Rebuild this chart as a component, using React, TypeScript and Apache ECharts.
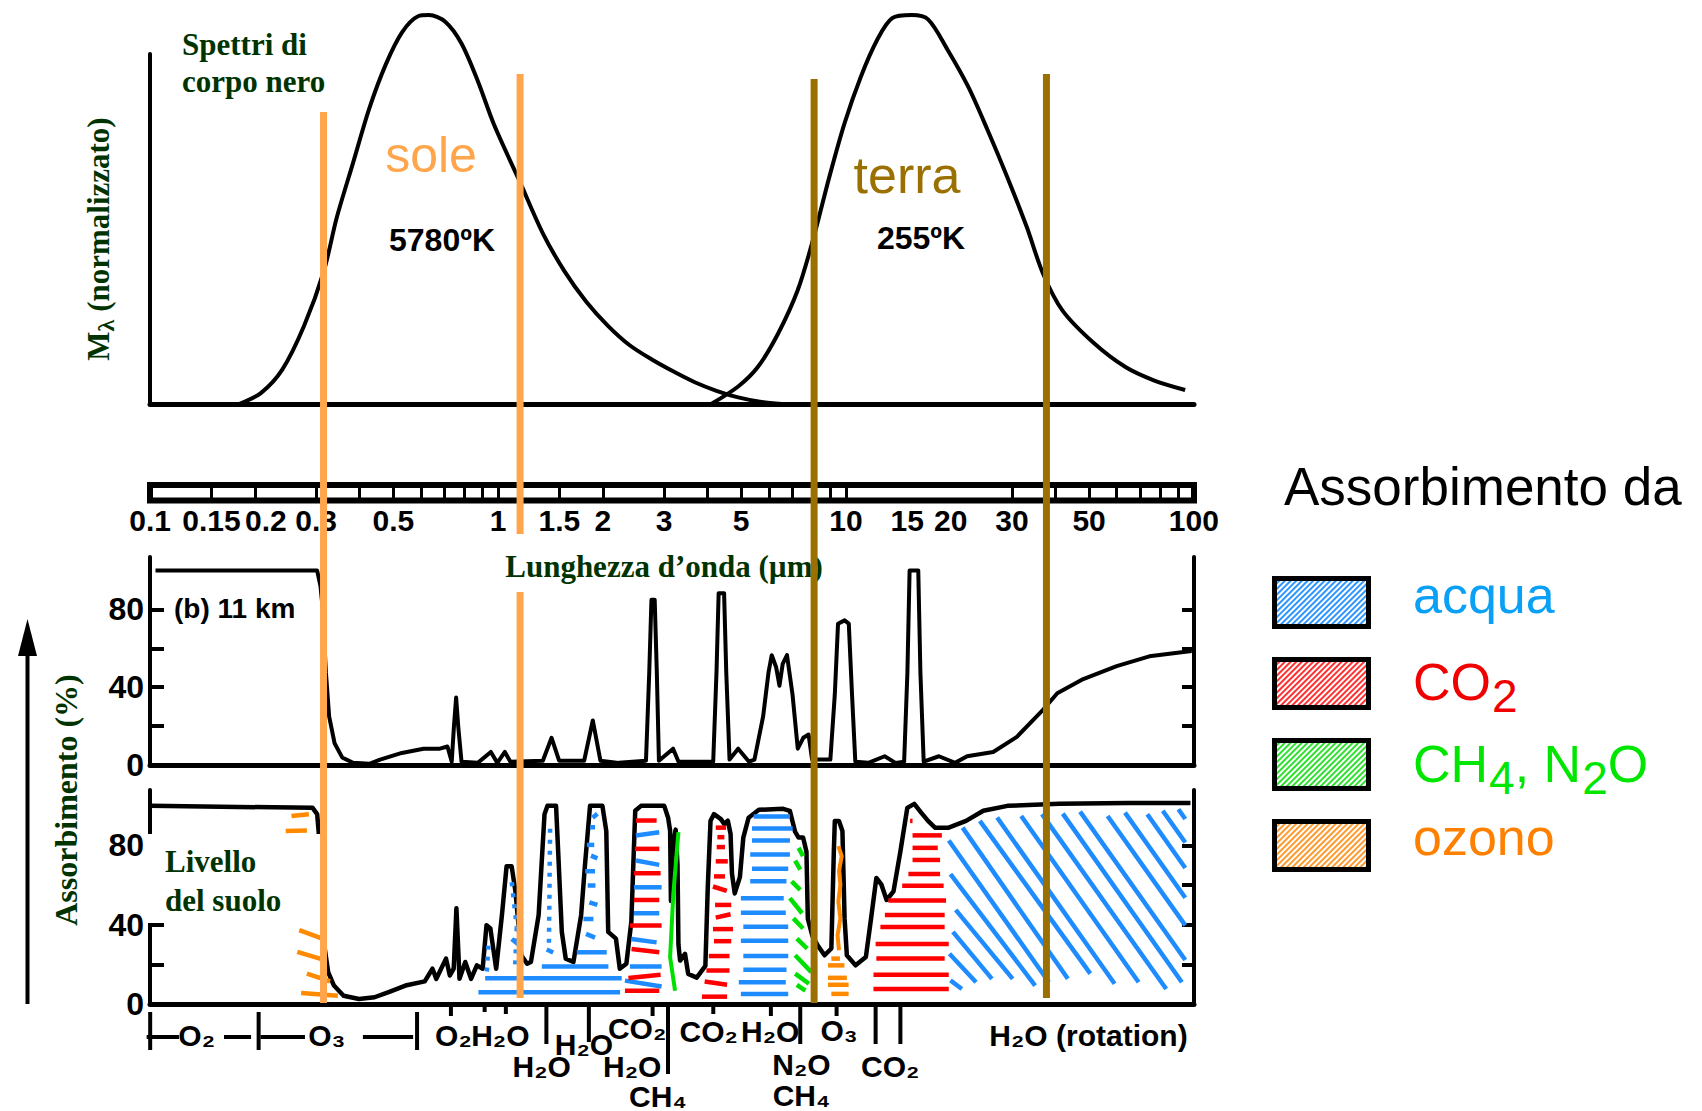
import React, { useEffect, useRef } from 'react';
import * as echarts from 'echarts';

// ================= DATA (wavelength in µm) =================
const rulerLabels = ['0.1', '0.15', '0.2', '0.3', '0.5', '1', '1.5', '2', '3', '5', '10', '15', '20', '30', '50', '100'];
const rulerDivisions = [0.15, 0.2, 0.3, 0.4, 0.5, 0.6, 0.7, 0.8, 0.9, 1, 1.5, 2, 3, 4, 5, 6, 7, 8, 9, 10, 30, 40, 50, 60, 70, 80, 90];

// Black body spectra, normalised M_lambda
const sunSpectrum = [
  [0.18, 0], [0.208, 0.028], [0.24, 0.089], [0.277, 0.201], [0.3155, 0.341], [0.344, 0.48], [0.383, 0.62],
  [0.4265, 0.76], [0.475, 0.872], [0.529, 0.955], [0.589, 0.997], [0.633, 1.0], [0.705, 0.983], [0.785, 0.927],
  [0.875, 0.83], [0.974, 0.718], [1.157, 0.57], [1.345, 0.439], [1.553, 0.341], [1.793, 0.263], [2.07, 0.201],
  [2.39, 0.151], [2.76, 0.115], [3.185, 0.084], [3.677, 0.056], [4.245, 0.034], [4.9, 0.017], [5.66, 0.006], [6.53, 0]
];
const earthSpectrum = [
  [4.1, 0], [4.9, 0.045], [5.58, 0.095], [6.39, 0.182], [7.27, 0.293], [8.04, 0.422], [8.96, 0.584], [9.9, 0.721],
  [11.03, 0.841], [12.29, 0.936], [13.58, 0.992], [15.46, 1.0], [17.22, 0.989], [19.59, 0.911], [22.46, 0.816],
  [25.55, 0.704], [29.08, 0.584], [33.1, 0.455], [36.87, 0.335], [41.94, 0.24], [51.67, 0.156], [63.6, 0.095],
  [76.7, 0.061], [94.4, 0.036]
];

// Absorption (%) at 11 km
const absorption11km = [
  [0.1036, 100], [0.302, 100], [0.3087, 92], [0.3131, 81], [0.32, 47.6], [0.3269, 25], [0.3389, 11.2], [0.3564, 3.9],
  [0.3831, 1.1], [0.4265, 0.6], [0.4581, 2.8], [0.529, 6.2], [0.6108, 8.4], [0.6803, 8.4], [0.7153, 9.5], [0.7359, 1.7],
  [0.7466, 19.6], [0.7576, 34.7], [0.7685, 19.6], [0.7852, 1.7], [0.8746, 1.1], [0.9533, 6.7], [0.9952, 1.1],
  [1.046, 6.7], [1.085, 1.7], [1.345, 2.2], [1.425, 14], [1.498, 2.2], [1.768, 2.2], [1.872, 22.9], [1.969, 2.2],
  [2.224, 1.1], [2.662, 2.2], [2.72, 47.6], [2.76, 85], [2.82, 85], [2.86, 47.6], [2.9, 2.2], [3.185, 8.4],
  [3.302, 1.7], [4.154, 1.7], [4.245, 47.6], [4.306, 88.4], [4.464, 88.4], [4.529, 47.6], [4.628, 2.8], [4.9, 8.4],
  [5.265, 1.7], [5.458, 2.8], [5.78, 25], [5.99, 47.6], [6.12, 56.5], [6.3, 50.3], [6.44, 40.8], [6.58, 52],
  [6.77, 56.5], [7.02, 36.4], [7.27, 8.4], [7.54, 14], [7.81, 15.7], [7.99, 2.8], [9.02, 2.8], [9.29, 36.4],
  [9.49, 72.7], [9.91, 74.4], [10.19, 72.7], [10.41, 36.4], [10.64, 1.7], [11.6, 1.1], [12.92, 4.5], [13.88, 1.1],
  [14.7, 1.7], [15.02, 47.6], [15.24, 100], [16.14, 100], [16.37, 47.6], [16.73, 1.7], [18.5, 4.5], [20.6, 1.1],
  [22.3, 4.5], [26.5, 6.7], [31.0, 14.5], [36.9, 28.5], [40.5, 36.9], [48.1, 44.2], [60.0, 50.9], [74.5, 55.9], [98.6, 58.7]
];

// Absorption (%) at ground level
const absorptionGround = [
  [0.1, 100], [0.293, 99], [0.302, 95.8], [0.305, 87], [0.31, 53.4], [0.3165, 29.7], [0.3248, 16.1], [0.3375, 9.3],
  [0.3597, 4.2], [0.3985, 2.5], [0.4415, 3.4], [0.4891, 6.3], [0.5417, 9.3], [0.6155, 11.4], [0.6478, 17.8],
  [0.6646, 12.7], [0.7086, 22.9], [0.7268, 14.4], [0.7456, 17.8], [0.7591, 48.3], [0.7748, 12.7], [0.8048, 21.2],
  [0.8362, 12.7], [0.8692, 19.5], [0.9031, 17.8], [0.9264, 39.8], [0.9504, 38.1], [0.9876, 17.8], [1.026, 44.9],
  [1.058, 69.5], [1.094, 69.5], [1.122, 56.8], [1.166, 24.6], [1.212, 20.3], [1.243, 21.2], [1.308, 44.9],
  [1.36, 95.8], [1.387, 100], [1.468, 100], [1.487, 78.8], [1.525, 36.4], [1.565, 22.9], [1.647, 21.2],
  [1.733, 44.9], [1.778, 70.3], [1.838, 100], [1.995, 100], [2.047, 87.3], [2.073, 36.4], [2.182, 33],
  [2.238, 17.8], [2.338, 20.3], [2.416, 41.5], [2.479, 97.5], [2.576, 100], [3.004, 100], [3.082, 94],
  [3.123, 87.5], [3.14, 52], [3.18, 80], [3.24, 88], [3.28, 70], [3.3, 30], [3.336, 21.9], [3.447, 25.3],
  [3.52, 15.2], [3.724, 13.3], [3.944, 19.2], [4.007, 59], [4.081, 92.5], [4.176, 95.8], [4.37, 93.3],
  [4.472, 90.8], [4.576, 92.5], [4.66, 85.8], [4.703, 65.8], [4.79, 55.8], [4.956, 64], [5.07, 84], [5.25, 94],
  [5.62, 98], [6.6, 98.5], [6.9, 97.5], [7.14, 87], [7.31, 84], [7.53, 84], [7.7, 77], [7.77, 43], [8.01, 34.2],
  [8.29, 29.7], [8.68, 24.6], [9.08, 28], [9.23, 77], [9.29, 92.4], [9.55, 92.4], [9.77, 87.3], [9.91, 43.2],
  [10.06, 24.6], [10.66, 19.5], [11.41, 23.7], [11.81, 43.2], [12.23, 63.6], [12.65, 60.2], [13.09, 52.5],
  [13.7, 56.8], [14.34, 77], [15.01, 99], [15.72, 101], [16.45, 96.6], [17.22, 92.4], [18.03, 89], [19.75, 89],
  [22.14, 92.4], [24.82, 97.5], [29.13, 100], [41.03, 101], [64.8, 101.5], [97.8, 101.5]
];

// Hatch strokes [λ1, abs1, λ2, abs2]
const waterStrokes = [
  [1.684, 26.1, 2.053, 26.1], [1.336, 18.9, 2.076, 18.9], [0.918, 13, 2.267, 13], [0.878, 5.9, 2.243, 5.9],
  [1.87, 94, 1.93, 96], [1.84, 89.2, 1.9, 89.2], [1.8, 80.3, 1.89, 80.3], [1.85, 74.9, 1.93, 73.5], [1.78, 67, 1.9, 67],
  [1.81, 59.8, 1.905, 59.8], [1.83, 51.3, 1.93, 50], [1.76, 42.9, 1.88, 42.9], [1.79, 35.4, 1.9, 33.5],
  [1.095, 32.8, 1.17, 28.6], [1.38, 27.5, 1.44, 26],
  [2.491, 85, 2.907, 86.7], [2.491, 72.4, 2.907, 70.2], [2.458, 58.9, 2.952, 58.9], [2.458, 45.8, 2.907, 45.8],
  [2.42, 32.8, 2.856, 31.1], [2.394, 18.9, 2.952, 18.9], [2.316, 11.8, 2.952, 8.8],
  [5.43, 94.6, 6.903, 94.6], [5.37, 88.6, 7.03, 88.6], [5.37, 82.5, 6.903, 82.5], [5.306, 75.4, 6.903, 75.4],
  [5.37, 68.3, 6.825, 68.3], [5.306, 61.9, 6.747, 61.9], [4.989, 53.4, 6.625, 53.4], [4.989, 46.1, 6.716, 46.1],
  [5.07, 39, 6.825, 39], [4.989, 31.9, 6.825, 31.9], [5.07, 24.2, 6.825, 24.2], [5.07, 17.3, 6.747, 17.3],
  [4.92, 11, 6.716, 11], [4.989, 5.1, 6.825, 5.1],
  [19.97, 11.9, 21.54, 7.6], [19.84, 25.4, 23.66, 11], [20.3, 36.4, 26.28, 12.7], [20.68, 47.5, 30.15, 12.7],
  [19.97, 65.6, 34.98, 9.3], [19.75, 82.5, 38.32, 11], [21.64, 89, 43.44, 12.7], [24.26, 92.4, 50.4, 15.3],
  [27.2, 94.1, 59.2, 10.2], [31.9, 94.9, 69.4, 11], [36.6, 95.8, 83.3, 7.6], [42.0, 96.1, 92.4, 11],
  [47.1, 97.1, 94.5, 22.2], [56.5, 94.9, 94.5, 39.7], [63.4, 96.6, 94.5, 53.6], [73.5, 95.8, 94.5, 68.6],
  [81.4, 97.5, 94.5, 81.5], [90.3, 98.3, 94.5, 93.4]
];
const waterDotted = [
  [0.938, 29.5, 0.928, 16], [1.095, 61.4, 1.132, 38.7], [1.132, 38.7, 1.119, 17.7], [1.411, 88.4, 1.4, 28]
];
const co2Strokes = [
  [2.491, 92.6, 2.856, 92.6], [2.474, 78.3, 2.907, 78.3], [2.458, 66, 2.933, 66], [2.458, 52.5, 2.907, 52.5],
  [2.394, 39.6, 2.952, 39.6], [2.42, 27.8, 2.907, 26.1], [2.37, 13.1, 2.933, 14.8], [2.316, 6.7, 2.907, 6.7],
  [4.224, 89, 4.523, 89], [4.27, 84.2, 4.472, 84.2], [4.25, 79.2, 4.49, 79.2], [4.224, 72, 4.576, 72],
  [4.176, 64.4, 4.49, 64.4], [4.147, 59.3, 4.545, 57.1], [4.205, 50, 4.68, 50], [4.224, 43.6, 4.66, 45.3],
  [4.147, 37.8, 4.735, 37.8], [4.176, 31.7, 4.68, 31.7], [4.035, 24.2, 4.627, 24.2], [3.971, 16.9, 4.627, 16.9],
  [3.926, 11.4, 4.554, 9.7], [3.855, 3.7, 4.554, 3.7],
  [15.29, 92.4, 15.54, 92.4], [15.54, 85.1, 18.87, 85.1], [15.54, 78.8, 18.36, 78.8], [15.54, 72.7, 18.65, 72.7],
  [15.12, 65.6, 18.65, 65.6], [14.51, 59.7, 19.09, 59.7], [13.24, 52.2, 19.4, 52.2], [12.94, 44.9, 19.22, 44.9],
  [12.56, 38.8, 19.22, 38.8], [12.17, 30.3, 19.75, 30.3], [12.23, 22.9, 19.22, 22.9], [12.0, 14.7, 19.75, 14.7],
  [12.0, 7.6, 19.75, 7.6]
];
const ch4n2oStrokes = [
  [7.31, 78.8, 7.53, 74.6], [7.145, 72.4, 7.39, 67.8], [6.98, 61.9, 7.39, 57.6], [6.9, 53.4, 7.48, 45.8],
  [7.06, 43.2, 7.53, 38.1], [7.225, 33, 7.74, 28], [7.145, 24.6, 7.955, 16.1], [7.145, 15.3, 7.83, 10.2],
  [7.225, 9.7, 7.65, 6.8]
];
const ch4Line = [[3.3, 86.7], [3.19, 55.6], [3.123, 23.6], [3.227, 6.7]];
const ozoneStrokes = [
  [0.2548, 94.9, 0.2858, 95.8], [0.2452, 87.3, 0.2822, 87.6], [0.2682, 37.3, 0.3126, 33], [0.2648, 26.3, 0.3126, 22.5],
  [0.2822, 15.3, 0.329, 11.4], [0.2716, 5.6, 0.3463, 4.2],
  [9.08, 22.9, 9.61, 22.9], [8.88, 19.5, 9.9, 19.5], [8.88, 13.2, 10.06, 13.2], [8.88, 9.7, 10.18, 9.7], [9.08, 5.1, 10.18, 5.1]
];
const ozoneLine = [[9.51, 79.7], [9.725, 74.6], [9.55, 67], [9.64, 60.2], [9.51, 51.7], [9.64, 43.2], [9.46, 34.7], [9.55, 27.1]];

// Window boundaries (µm)
const sunWindow = [0.315, 1.157];
const earthWindow = [8.1, 37.7];

// Absorbing gases under the lower panel
const gasLabelText = ['O₂', 'O₃', 'O₂', 'H₂O', 'H₂O', 'H₂O', 'CO₂', 'H₂O', 'CH₄', 'CO₂', 'H₂O', 'N₂O', 'CH₄', 'O₃', 'CO₂', 'H₂O (rotation)'];
const gasLabelLambda = [0.136, 0.322, 0.744, 1.015, 1.335, 1.765, 2.51, 2.43, 2.88, 4.03, 6.06, 7.45, 7.45, 9.55, 13.4, 49.8];
const gasTickLambda = [0.732, 0.915, 1.053, 1.377, 1.824, 2.781, 3.08, 4.156, 6.085, 7.39, 9.4, 12.17, 14.34];
const bracketLambda = [[0.0977, 0.121], [0.163, 0.195], [0.2076, 0.2786], [0.4088, 0.57]];
const bracketEndLambda = [0.1, 0.205, 0.585];

// Legend entries (series names) and their rich-text labels with subscripts
const legendNames = ['acqua', 'CO₂', 'CH₄, N₂O', 'ozono'];
const legendLabels = ['{m|acqua}', '{m|CO}{s|2}', '{m|CH}{s|4}{m|, N}{s|2}{m|O}', '{m|ozono}'];

// ================= LAYOUT (page pixels) =================
const W = 1702;
const H = 1111;
const PL = 150;
const PW = 1044;
const LOG_MIN = -1.0005;
const LOG_MAX = 2.0005;
const gasLabelY = [1035, 1035, 1035, 1035, 1066, 1044, 1028, 1066, 1096, 1031, 1031, 1064, 1095, 1030, 1066, 1035];
const gasTickLen = [12, 8, 10, 40, 38, 12, 70, 10, 12, 40, 12, 40, 40];
const AXIS_BOTTOM_Y = 1004;
const BRACKET_Y = 1037;
const windowSpans = [
  [[112, 1003]],
  [[74, 534], [592, 998]],
  [[79, 1003]],
  [[74, 998]]
];
const LEGEND_TEXT_X = 1413;
const legendTextY = [595, 682, 764, 837];

const SANS = '"Liberation Sans", Arial, Helvetica, sans-serif';
const SERIF = '"Liberation Serif", "Times New Roman", serif';
const GREEN = '#003300';
const BLUE = '#1e8cff';
const RED = '#ff0000';
const LIME = '#00e000';
const ORANGE = '#ff8a00';
const SUN = '#ffa64d';
const EARTH = '#9a7000';
const legendTextColors = ['#0aa0f5', '#f00000', '#00e600', '#ff8000'];
const legendDecalColors = ['#2f95ff', '#ff3030', '#30e030', '#ff9a30'];

const lg = (v: number) => Math.log10(v);
const toXY = (pts: number[][]) => pts.map(([l, v]) => [lg(l), v]);
const toSeg = (s: number[][]) => s.map(([l1, a1, l2, a2]) => [lg(l1), a1, lg(l2), a2]);

function segRender(color: string, width: number, dash?: number[]) {
  return (params: any, api: any) => {
    const a = api.coord([api.value(0), api.value(1)]);
    const b = api.coord([api.value(2), api.value(3)]);
    return {
      type: 'line',
      shape: { x1: a[0], y1: a[1], x2: b[0], y2: b[1] },
      style: { stroke: color, lineWidth: width, lineDash: dash, lineCap: 'butt' },
      silent: true
    };
  };
}

function segSeries(name: string, data: number[][], color: string, xi: number, yi: number, width: number, z: number, dash?: number[]) {
  return {
    type: 'custom',
    name,
    xAxisIndex: xi,
    yAxisIndex: yi,
    data,
    encode: { x: [0, 2], y: [1, 3] },
    renderItem: segRender(color, width, dash),
    itemStyle: { color },
    clip: false,
    silent: true,
    z
  };
}

function buildOption() {
  const hiddenX = (gi: number) => ({
    type: 'value', gridIndex: gi, min: LOG_MIN, max: LOG_MAX,
    axisLine: { show: false }, axisTick: { show: false }, axisLabel: { show: false }, splitLine: { show: false }
  });
  const lineX = (gi: number) => ({
    type: 'value', gridIndex: gi, min: LOG_MIN, max: LOG_MAX, position: 'bottom',
    axisLine: { show: true, onZero: false, lineStyle: { color: '#000', width: 5 } },
    axisTick: { show: false }, axisLabel: { show: false }, splitLine: { show: false }
  });
  const yLeft = (gi: number, max: number) => ({
    type: 'value', gridIndex: gi, min: 0, max, position: 'left',
    axisLine: { show: true, onZero: false, lineStyle: { color: '#000', width: 4 } },
    axisTick: { show: true, inside: true, length: 14, lineStyle: { color: '#000', width: 4 }, customValues: [20, 40, 60, 80] },
    axisLabel: { show: true, customValues: [0, 40, 80], color: '#000', fontSize: 32, fontWeight: 'bold', fontFamily: SANS, margin: 6 },
    splitLine: { show: false }
  });
  const yRight = (gi: number, max: number) => ({
    type: 'value', gridIndex: gi, min: 0, max, position: 'right',
    axisLine: { show: true, onZero: false, lineStyle: { color: '#000', width: 4 } },
    axisTick: { show: true, inside: true, length: 12, lineStyle: { color: '#000', width: 4 }, customValues: [20, 40, 60, 80] },
    axisLabel: { show: false },
    splitLine: { show: false }
  });

  const labelLogs = rulerLabels.map((s) => lg(parseFloat(s)));

  const windowData = (idx: number[]) => {
    const out: number[][] = [];
    idx.forEach((i) => {
      const lam = i < 2 ? sunWindow[i] : earthWindow[i - 2];
      windowSpans[i].forEach(([y1, y2]) => out.push([lg(lam), y1, lg(lam), y2]));
    });
    return out;
  };

  const tickData = gasTickLambda.map((l, i) => [lg(l), AXIS_BOTTOM_Y, lg(l), AXIS_BOTTOM_Y + gasTickLen[i]]);
  const bracketData = [
    ...bracketLambda.map(([a, b]) => [lg(a), BRACKET_Y, lg(b), BRACKET_Y]),
    ...bracketEndLambda.map((l) => [lg(l), BRACKET_Y - 25, lg(l), BRACKET_Y + 13])
  ];

  const rulerLabelFont = { fontSize: 30, fontWeight: 'bold', fontFamily: SANS, color: '#000' };

  const legendTexts = legendLabels.map((label, i) => ({
    type: 'text', x: LEGEND_TEXT_X, y: legendTextY[i], z: 20,
    style: {
      text: label, align: 'left', verticalAlign: 'middle',
      rich: {
        m: { font: `52px ${SANS}`, fill: legendTextColors[i], lineHeight: 48 },
        s: { font: `46px ${SANS}`, fill: legendTextColors[i], lineHeight: 22, padding: [28, 0, 0, 1] }
      }
    }
  }));

  return {
    animation: false,
    backgroundColor: '#ffffff',
    textStyle: { fontFamily: SANS },
    title: {
      text: 'Assorbimento da', left: 1279, top: 455, padding: 5,
      textStyle: { fontFamily: SANS, fontSize: 53, fontWeight: 'normal', color: '#000' }
    },
    legend: {
      orient: 'vertical', left: 1272, top: 576, padding: 0,
      itemWidth: 94, itemHeight: 48, itemGap: 28, icon: 'rect', selectedMode: false,
      itemStyle: { borderColor: '#000', borderWidth: 5 },
      data: legendNames.map((name, i) => ({
        name,
        itemStyle: {
          color: '#ffffff',
          decal: { symbol: 'rect', symbolSize: 1, color: legendDecalColors[i], dashArrayX: [1, 0], dashArrayY: [2, 2], rotation: -Math.PI / 4 }
        }
      })),
      formatter: () => '',
      textStyle: { fontSize: 1, color: 'rgba(0,0,0,0)' }
    },
    grid: [
      { left: PL, width: PW, top: 54, height: 350, outerBoundsMode: 'none' },
      { left: PL, width: PW, top: 485, height: 15.5, show: true, borderColor: '#000', borderWidth: 6, backgroundColor: '#fff', outerBoundsMode: 'none' },
      { left: PL, width: PW, top: 557, height: 208, outerBoundsMode: 'none' },
      { left: PL, width: PW, top: 790, height: 214, outerBoundsMode: 'none' },
      { left: PL, width: PW, top: 0, height: H, outerBoundsMode: 'none' }
    ],
    xAxis: [
      lineX(0),
      {
        type: 'value', gridIndex: 1, min: LOG_MIN, max: LOG_MAX, position: 'bottom',
        axisLine: { show: false, onZero: false },
        axisTick: { show: true, inside: true, length: 15.5, lineStyle: { color: '#000', width: 3 }, customValues: rulerDivisions.map(lg) },
        axisLabel: {
          show: true, customValues: labelLogs, hideOverlap: false, margin: 5,
          ...rulerLabelFont,
          rich: {
            n: { ...rulerLabelFont },
            r: { ...rulerLabelFont, padding: [0, 0, 0, 22] }
          },
          formatter: (v: number) => {
            const i = labelLogs.findIndex((x) => Math.abs(x - v) < 1e-6);
            if (i < 0) return '';
            return rulerLabels[i] === '0.2' ? `{r|${rulerLabels[i]}}` : `{n|${rulerLabels[i]}}`;
          }
        },
        splitLine: { show: false }
      },
      lineX(2),
      lineX(3),
      hiddenX(4)
    ],
    yAxis: [
      {
        type: 'value', gridIndex: 0, min: 0, max: 0.9, position: 'left',
        axisLine: { show: true, onZero: false, lineStyle: { color: '#000', width: 4 } },
        axisTick: { show: false }, axisLabel: { show: false }, splitLine: { show: false }
      },
      { type: 'value', gridIndex: 1, min: 0, max: 1, show: false },
      yLeft(2, 107),
      yRight(2, 107),
      yLeft(3, 108),
      yRight(3, 108),
      { type: 'value', gridIndex: 4, min: 0, max: H, inverse: true, show: false }
    ],
    graphic: {
      elements: [
        { type: 'text', x: 182, y: 26, z: 20, style: { text: 'Spettri di\ncorpo nero', font: `bold 31px ${SERIF}`, fill: GREEN, lineHeight: 37, align: 'left', verticalAlign: 'top' } },
        {
          type: 'text', x: 98, y: 239, rotation: Math.PI / 2, z: 20,
          style: {
            text: '{m|M}{l|λ}{m| (normalizzato)}', align: 'center', verticalAlign: 'middle',
            rich: {
              m: { font: `bold 31px ${SERIF}`, fill: GREEN, lineHeight: 36 },
              l: { font: `bold 24px ${SERIF}`, fill: GREEN, lineHeight: 20, padding: [16, 0, 0, 0] }
            }
          }
        },
        { type: 'text', x: 66, y: 800, rotation: Math.PI / 2, z: 20, style: { text: 'Assorbimento (%)', font: `bold 32px ${SERIF}`, fill: GREEN, align: 'center', verticalAlign: 'middle' } },
        { type: 'text', x: 664, y: 566, z: 20, style: { text: 'Lunghezza d’onda (µm)', font: `bold 31px ${SERIF}`, fill: GREEN, align: 'center', verticalAlign: 'middle' } },
        { type: 'text', x: 431, y: 155, z: 20, style: { text: 'sole', font: `50px ${SANS}`, fill: SUN, align: 'center', verticalAlign: 'middle' } },
        { type: 'text', x: 442, y: 240, z: 20, style: { text: '5780ºK', font: `bold 32px ${SANS}`, fill: '#000', align: 'center', verticalAlign: 'middle' } },
        { type: 'text', x: 907, y: 175, z: 20, style: { text: 'terra', font: `52px ${SANS}`, fill: EARTH, align: 'center', verticalAlign: 'middle' } },
        { type: 'text', x: 921, y: 238, z: 20, style: { text: '255ºK', font: `bold 32px ${SANS}`, fill: '#000', align: 'center', verticalAlign: 'middle' } },
        { type: 'text', x: 174, y: 608, z: 20, style: { text: '(b) 11 km', font: `bold 28px ${SANS}`, fill: '#000', align: 'left', verticalAlign: 'middle' } },
        { type: 'rect', z: 50, shape: { x: 147, y: 834, width: 174, height: 89 }, style: { fill: '#ffffff' } },
        { type: 'text', x: 165, y: 842, z: 51, style: { text: 'Livello\ndel suolo', font: `bold 31px ${SERIF}`, fill: GREEN, lineHeight: 39, align: 'left', verticalAlign: 'top' } },
        { type: 'line', z: 20, shape: { x1: 27.5, y1: 650, x2: 27.5, y2: 1004 }, style: { stroke: '#000', lineWidth: 4 } },
        { type: 'polygon', z: 20, shape: { points: [[27.5, 619], [18, 656], [37, 656]] }, style: { fill: '#000' } },
        ...legendTexts
      ]
    },
    series: [
      segSeries('acqua', toSeg(waterStrokes), BLUE, 3, 4, 4.5, 6),
      segSeries('CO₂', toSeg(co2Strokes), RED, 3, 4, 4.5, 6),
      segSeries('CH₄, N₂O', toSeg(ch4n2oStrokes), LIME, 3, 4, 4.5, 6),
      segSeries('ozono', toSeg(ozoneStrokes), ORANGE, 3, 4, 4.5, 6),
      segSeries('acqua', toSeg(waterDotted), BLUE, 3, 4, 4.5, 6, [4, 7]),
      {
        type: 'line', name: 'CH4 3.3', xAxisIndex: 3, yAxisIndex: 4, data: toXY(ch4Line), showSymbol: false, symbol: 'none',
        lineStyle: { color: LIME, width: 4 }, clip: false, silent: true, z: 7
      },
      {
        type: 'line', name: 'O3 9.6', xAxisIndex: 3, yAxisIndex: 4, data: toXY(ozoneLine), showSymbol: false, symbol: 'none',
        lineStyle: { color: ORANGE, width: 4 }, clip: false, silent: true, z: 7
      },
      {
        type: 'line', name: 'sole', xAxisIndex: 0, yAxisIndex: 0, data: toXY(sunSpectrum), symbol: 'none', smooth: 0.3,
        lineStyle: { color: '#000', width: 4 }, clip: false, silent: true, z: 4
      },
      {
        type: 'line', name: 'terra', xAxisIndex: 0, yAxisIndex: 0, data: toXY(earthSpectrum), symbol: 'none', smooth: 0.3,
        lineStyle: { color: '#000', width: 4 }, clip: false, silent: true, z: 4
      },
      {
        type: 'line', name: '11 km', xAxisIndex: 2, yAxisIndex: 2, data: toXY(absorption11km), symbol: 'none',
        lineStyle: { color: '#000', width: 4, join: 'round' }, clip: false, silent: true, z: 4
      },
      {
        type: 'line', name: 'suolo', xAxisIndex: 3, yAxisIndex: 4, data: toXY(absorptionGround), symbol: 'none',
        lineStyle: { color: '#000', width: 4.5, join: 'round' }, clip: false, silent: true, z: 4
      },
      segSeries('gas ticks', tickData, '#000', 4, 6, 4, 8),
      segSeries('gas brackets', bracketData, '#000', 4, 6, 4, 8),
      {
        type: 'custom', name: 'gas labels', xAxisIndex: 4, yAxisIndex: 6,
        data: gasLabelLambda.map((l, i) => [lg(l), gasLabelY[i]]),
        encode: { x: 0, y: 1 }, clip: false, silent: true, z: 8,
        renderItem: (params: any, api: any) => {
          const p = api.coord([api.value(0), api.value(1)]);
          return {
            type: 'text', x: p[0], y: p[1], silent: true,
            style: { text: gasLabelText[params.dataIndex], font: `bold 30px ${SANS}`, fill: '#000', align: 'center', verticalAlign: 'middle' }
          };
        }
      },
      segSeries('finestra sole', windowData([0, 1]), SUN, 4, 6, 7, 60),
      segSeries('finestra terra', windowData([2, 3]), EARTH, 4, 6, 7, 60)
    ]
  };
}

export default function App() {
  const ref = useRef<HTMLDivElement>(null);
  useEffect(() => {
    document.body.style.margin = '0';
    if (!ref.current) return;
    const chart = echarts.init(ref.current, null, { renderer: 'svg', width: W, height: H });
    chart.setOption(buildOption() as any);
    return () => chart.dispose();
  }, []);
  return <div ref={ref} style={{ position: 'absolute', left: 0, top: 0, width: W, height: H, background: '#fff' }} />;
}
